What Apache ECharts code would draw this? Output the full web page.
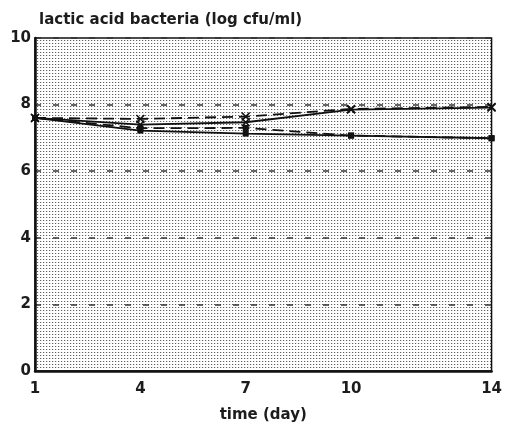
<!DOCTYPE html>
<html>
<head>
<meta charset="utf-8">
<script src="https://cdn.jsdelivr.net/npm/echarts@6/dist/echarts.min.js"></script>
<style>html,body{margin:0;padding:0;background:#fff;overflow:hidden;}#c{width:505px;height:431px;}</style>
</head>
<body>
<div id="c"></div>
<script>
// Data
var days = [1, 4, 7, 10, 14];
var xTickLabels = [1, 4, 7, 10, 14];
var solidCross = [7.6, 7.40, 7.47, 7.85, 7.91];
var dashedCross = [7.6, 7.57, 7.64, 7.87, 7.93];
var dashedSquare = [7.6, 7.29, 7.30, 7.07, 6.99];
var solidSquare = [7.6, 7.22, 7.13, 7.07, 6.99];

function pairs(vals) { return days.map(function (d, i) { return [d, vals[i]]; }); }

// stipple pattern for the plot background
var pc = document.createElement('canvas');
pc.width = 3; pc.height = 3;
var g = pc.getContext('2d');
g.fillStyle = '#ffffff'; g.fillRect(0, 0, 3, 3);
g.fillStyle = '#5e5e5e'; g.fillRect(1, 1, 1, 1);
g.fillStyle = '#dcdcdc'; g.fillRect(2, 1, 1, 1);

var FONT = 'DejaVu Sans';
var crossPath = 'path://M0,1.2 L1.2,0 L5,3.8 L8.8,0 L10,1.2 L6.2,5 L10,8.8 L8.8,10 L5,6.2 L1.2,10 L0,8.8 L3.8,5 Z';

function mk(name, vals, dashed, sym, size) {
  return {
    name: name, type: 'line', data: pairs(vals),
    symbol: sym, symbolSize: size, showSymbol: true,
    lineStyle: { color: '#111', width: 1.8, type: dashed ? [11, 6] : 'solid' },
    itemStyle: { color: '#111' },
    animation: false, z: 5
  };
}

var chart = echarts.init(document.getElementById('c'));
chart.setOption({
  animation: false,
  title: {
    text: 'lactic acid bacteria (log cfu/ml)',
    left: 34, top: 8,
    textStyle: { fontFamily: FONT, fontSize: 15, fontWeight: 'bold', color: '#1c1c1c' }
  },
  grid: {
    left: 35, right: 7, top: 38, bottom: 60,
    show: true,
    backgroundColor: { image: pc, repeat: 'repeat' },
    borderColor: '#111', borderWidth: 1.5
  },
  xAxis: {
    type: 'value', min: 1, max: 14,
    name: 'time (day)', nameLocation: 'middle', nameGap: 37,
    nameTextStyle: { fontFamily: FONT, fontSize: 15, fontWeight: 'bold', color: '#1c1c1c' },
    axisLine: { show: true, onZero: false, lineStyle: { color: '#111', width: 2.5 } },
    axisTick: { show: false },
    splitLine: { show: false },
    axisLabel: {
      customValues: xTickLabels, margin: 11,
      fontFamily: FONT, fontSize: 15, fontWeight: 'bold', color: '#1c1c1c'
    }
  },
  yAxis: {
    type: 'value', min: 0, max: 10, interval: 2,
    axisLine: { show: true, lineStyle: { color: '#111', width: 2.5 } },
    axisTick: { show: false },
    splitLine: { show: true, lineStyle: { color: '#333', width: 1.5, type: [6, 12] } },
    axisLabel: { margin: 4, fontFamily: FONT, fontSize: 15, fontWeight: 'bold', color: '#1c1c1c' }
  },
  series: [
    mk('A', solidCross, false, crossPath, 9),
    mk('B', dashedCross, true, crossPath, 9),
    mk('C', dashedSquare, true, 'rect', 6),
    mk('D', solidSquare, false, 'rect', 6)
  ]
});
</script>
</body>
</html>
